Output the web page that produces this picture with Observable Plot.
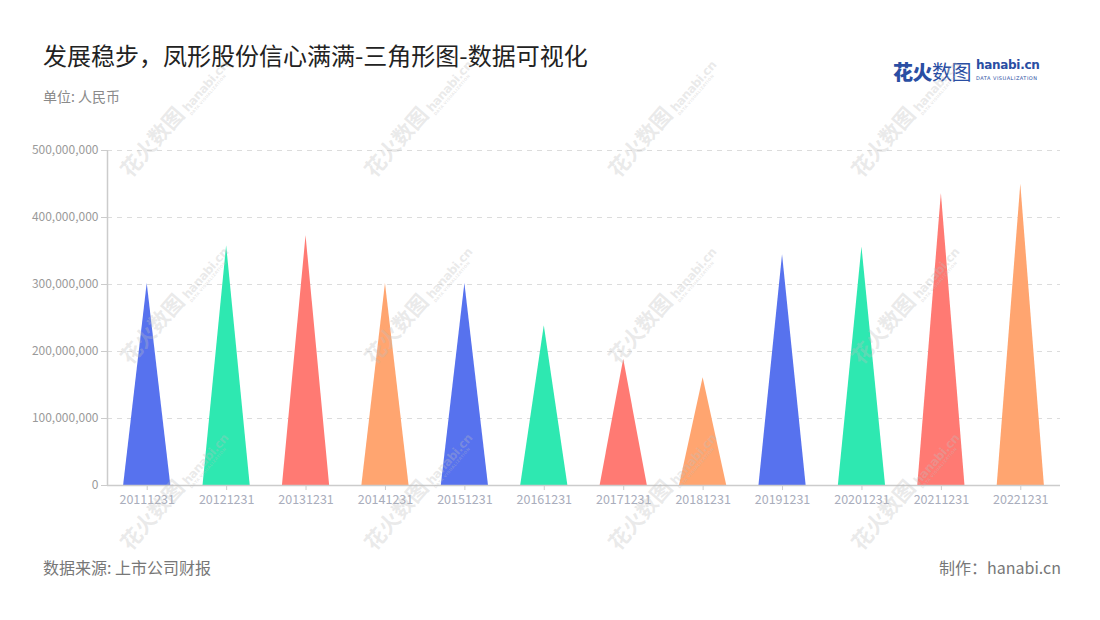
<!DOCTYPE html>
<html>
<head>
<meta charset="utf-8">
<script src="https://cdn.jsdelivr.net/npm/d3@7"></script>
<script src="https://cdn.jsdelivr.net/npm/@observablehq/plot@0.6"></script>
<style>
  html, body { margin: 0; padding: 0; background: #fff; }
  #wrap { position: relative; width: 1100px; height: 620px; overflow: hidden; font-family: "Noto Sans CJK SC", "Noto Sans", sans-serif; }
  #title { position: absolute; left: 43px; top: 37px; font-size: 24px; color: #222; white-space: nowrap; }
  #unit { position: absolute; left: 43px; top: 86px; font-size: 14px; color: #8a8a8a; }
  #source { position: absolute; left: 43px; top: 555px; font-size: 16px; color: #777; }
  #maker { position: absolute; right: 39px; top: 555px; font-size: 16px; color: #777; }
  #logo { position: absolute; left: 893px; top: 57px; height: 30px; }
  #logo .cn { font-size: 20px; color: #2a4ea3; letter-spacing: -0.5px; }
  #logo .cn b { font-weight: 800; }
  #logo .cn span { font-weight: 400; }
  #logo .en { position: absolute; left: 83px; top: 1px; font-family: "DejaVu Sans", sans-serif; font-size: 12px; font-weight: 700; color: #2a4ea3; letter-spacing: -0.3px; white-space: nowrap; }
  #logo .sub { position: absolute; left: 83px; top: 18px; font-family: "DejaVu Sans", sans-serif; font-size: 5px; color: #2a4ea3; letter-spacing: 0.5px; white-space: nowrap; }
  #chart { position: absolute; left: 0; top: 130px; }
  .wm { position: absolute; transform-origin: 0 100%; transform: rotate(-49deg); white-space: nowrap; color: rgba(190,190,190,0.33); pointer-events: none; line-height: 1; z-index: 5; }
  .wm .a { font-size: 21px; font-weight: 700; }
  .wm .b { font-family: "DejaVu Sans", sans-serif; font-size: 12px; font-weight: 700; position: relative; letter-spacing: -0.4px; }
  .wm .c { font-family: "DejaVu Sans", sans-serif; font-size: 4px; position: absolute; left: 0; top: 13px; letter-spacing: 0.3px; }
</style>
</head>
<body>
<div id="wrap">
  <div id="title">发展稳步，凤形股份信心满满-三角形图-数据可视化</div>
  <div id="unit">单位: 人民币</div>
  <div id="logo"><span class="cn"><b>花火</b><span>数图</span></span><span class="en">hanabi.cn</span><span class="sub">DATA VISUALIZATION</span></div>
  <div id="chart"></div>
  <div id="source">数据来源: 上市公司财报</div>
  <div id="maker">制作：hanabi.cn</div>
</div>
<script>
const dates = ["20111231","20121231","20131231","20141231","20151231","20161231","20171231","20181231","20191231","20201231","20211231","20221231"];
const values = [301500000, 357900000, 372800000, 301500000, 301500000, 238500000, 188400000, 160900000, 344300000, 355900000, 436000000, 449900000];
const palette = ["#5772EE", "#2EE8B1", "#FF7A73", "#FFA570"];
const yTicks = [0, 100000000, 200000000, 300000000, 400000000, 500000000];

const halfWidth = 0.297;
const pts = [];
dates.forEach((d, i) => {
  const c = palette[i % palette.length];
  pts.push({i, x: i - halfWidth, y: 0, c});
  pts.push({i, x: i, y: values[i], c});
  pts.push({i, x: i + halfWidth, y: 0, c});
});

const fmt = d3.format(",");
const plot = Plot.plot({
  width: 1100,
  height: 420,
  marginLeft: 107,
  marginRight: 40,
  marginTop: 20,
  marginBottom: 65,
  style: { fontFamily: "Noto Sans CJK SC, Noto Sans, sans-serif", background: "transparent" },
  x: { type: "linear", domain: [-0.5, dates.length - 0.5] },
  y: { domain: [0, 500000000] },
  marks: [
    Plot.gridY(yTicks.slice(1), { stroke: "#dcdcdc", strokeOpacity: 1, strokeDasharray: "5,5", strokeWidth: 1.2 }),
    Plot.areaY(pts, { x: "x", y: "y", z: "i", fill: "c", curve: "linear" }),
    Plot.ruleY([0], { stroke: "#cccccc", strokeWidth: 1.5 }),
    Plot.ruleX([-0.5], { stroke: "#cccccc", strokeWidth: 1.5 }),
    Plot.axisY(yTicks, { tickFormat: fmt, tickSize: 6, tickPadding: 3, stroke: "#cccccc", fill: "#9a9a9a", fontSize: 12, label: null }),
    Plot.axisX(d3.range(dates.length), { tickFormat: i => dates[i], tickSize: 5, tickPadding: 5, stroke: "#cccccc", fill: "#a9adbc", fontSize: 12.5, label: null })
  ]
});
document.getElementById("chart").appendChild(plot);

// watermarks (decorative)
const wrap = document.getElementById("wrap");
const wmCols = [132, 376, 620, 863];
const wmRows = [180, 367, 553];
wmRows.forEach(y => wmCols.forEach(x => {
  const el = document.createElement("div");
  el.className = "wm";
  el.innerHTML = '<span class="a">花火数图</span> <span class="b">hanabi.cn<span class="c">DATA VISUALIZATION</span></span>';
  el.style.left = x + "px";
  el.style.top = (y - 21) + "px";
  wrap.appendChild(el);
}));
</script>
</body>
</html>
